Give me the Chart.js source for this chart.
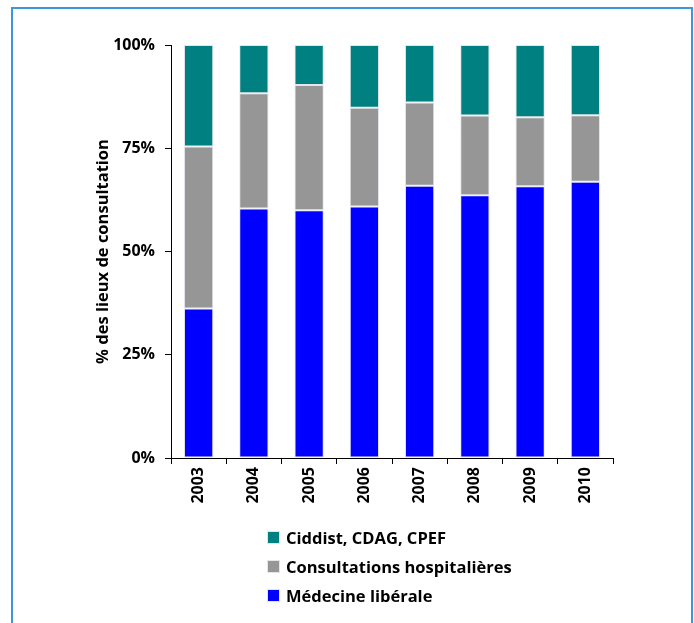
<!DOCTYPE html>
<html>
<head>
<meta charset="utf-8">
<script src="https://cdn.jsdelivr.net/npm/chart.js@4.4.1/dist/chart.umd.min.js"></script>
<style>
  html, body { margin: 0; padding: 0; background: #fff; width: 694px; height: 623px; overflow: hidden; }
  #frame { position: absolute; left: 11px; top: 7px; width: 682px; height: 640px; border: 2px solid #3b97d8; box-sizing: border-box; }
  #wrap { position: absolute; left: 0; top: 0; width: 694px; height: 623px; }
  #legend { position: absolute; left: 267px; top: 523px; font-family: "Open Sans", Roboto, sans-serif; font-weight: 700; font-size: 16.5px; color: #000; }
  #legend .item { height: 29px; display: flex; align-items: center; }
  #legend .box { width: 11px; height: 11px; margin-right: 6px; border: 1px solid #e6e6e6; }
</style>
</head>
<body>
<div id="frame"></div>
<div id="wrap"><canvas id="c" width="694" height="623"></canvas></div>
<div id="legend"></div>
<script>
const categories = ["2003", "2004", "2005", "2006", "2007", "2008", "2009", "2010"];
const medecineLiberale = [36.2, 60.4, 60.0, 60.9, 65.9, 63.6, 65.8, 66.9];
const consultationsHospitalieres = [39.2, 27.9, 30.3, 23.9, 20.2, 19.3, 16.7, 16.1];
const ciddist = [24.6, 11.7, 9.7, 15.2, 13.9, 17.1, 17.5, 17.0];
const yTicks = [0, 25, 50, 75, 100];
const seriesLabels = ["Médecine libérale", "Consultations hospitalières", "Ciddist, CDAG, CPEF"];
const seriesColors = ["#0000ff", "#969696", "#008080"];

const font = { family: "'Open Sans', Roboto, sans-serif", weight: "bold", size: 16 };
const titleFont = { family: "'Open Sans', Roboto, sans-serif", weight: "bold", size: 16.5 };

const datasets = [medecineLiberale, consultationsHospitalieres, ciddist].map((d, i) => ({
  label: seriesLabels[i],
  data: d,
  backgroundColor: seriesColors[i],
  borderColor: "#e4e4ec",
  borderWidth: 1,
  borderSkipped: false,
  categoryPercentage: 1,
  barPercentage: 0.53
}));

new Chart(document.getElementById("c"), {
  type: "bar",
  data: { labels: categories, datasets },
  options: {
    responsive: false,
    animation: false,
    layout: { padding: { left: 93, top: 45, right: 81, bottom: 0 } },
    plugins: { legend: { display: false }, tooltip: { enabled: false } },
    scales: {
      x: {
        stacked: true,
        afterFit: s => { s.height = 165; },
        grid: { drawOnChartArea: false, tickLength: 6, color: "#000", offset: true },
        border: { display: true, color: "#000", width: 1 },
        ticks: { font, color: "#000", minRotation: 90, maxRotation: 90, padding: 3 }
      },
      y: {
        stacked: true,
        min: 0, max: 100,
        afterFit: s => { s.width = 78; },
        afterBuildTicks: s => { s.ticks = yTicks.map(v => ({ value: v })); },
        grid: { drawOnChartArea: false, tickLength: 6, color: "#000" },
        border: { display: true, color: "#000", width: 1 },
        ticks: { font, color: "#000", padding: 10, callback: v => v + "%" },
        title: { display: true, text: "% des lieux de consultation", font: titleFont, color: "#000", padding: 0 }
      }
    }
  }
});

const legend = document.getElementById("legend");
[2, 1, 0].forEach(i => {
  const it = document.createElement("div");
  it.className = "item";
  const b = document.createElement("span");
  b.className = "box";
  b.style.background = seriesColors[i];
  const t = document.createElement("span");
  t.textContent = seriesLabels[i];
  it.appendChild(b); it.appendChild(t);
  legend.appendChild(it);
});
</script>
</body>
</html>
